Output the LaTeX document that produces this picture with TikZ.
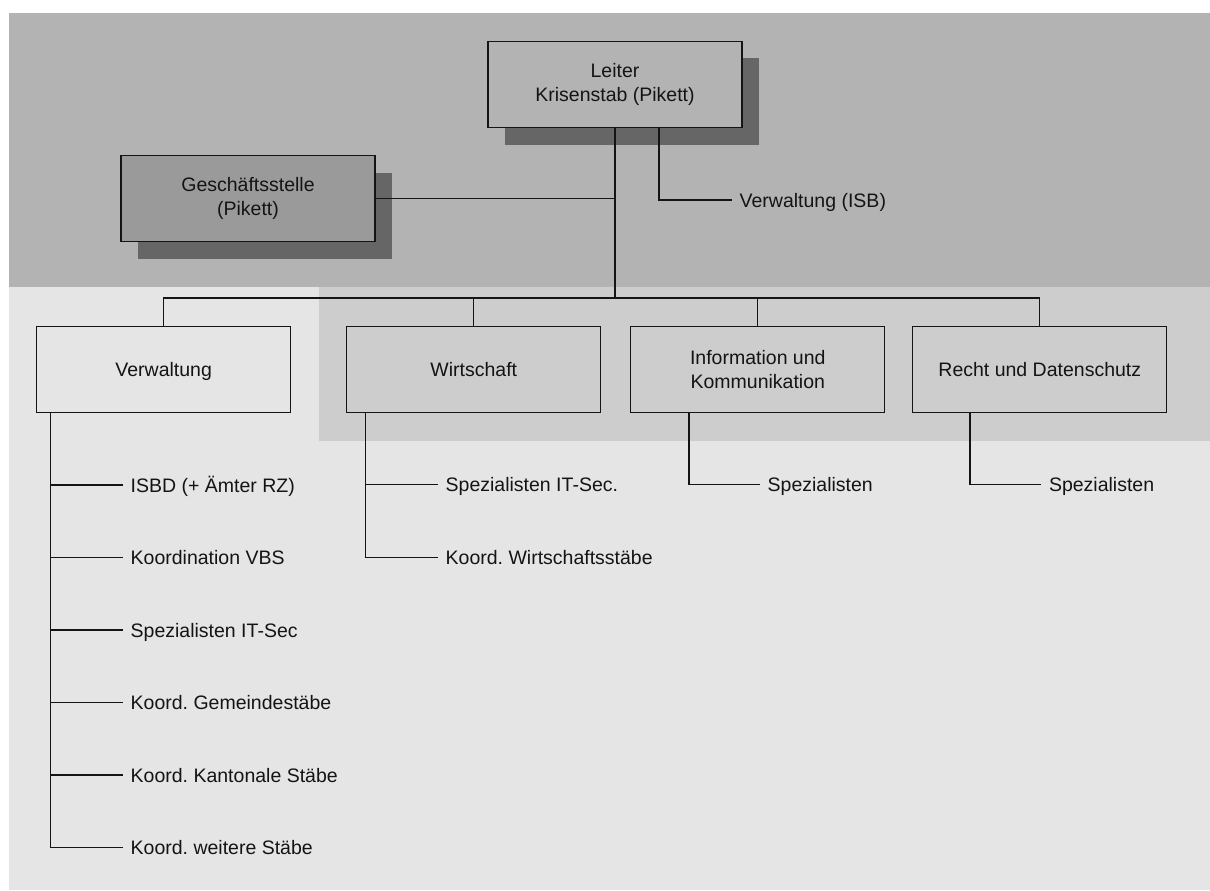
\documentclass[tikz,border=0pt]{standalone}
\usepackage{fontspec}
\setmainfont{Liberation Sans}
\usetikzlibrary{shadows}
\frenchspacing

\definecolor{bandtop}{HTML}{B3B3B3}
\definecolor{bandlow}{HTML}{E5E5E5}
\definecolor{bandmid}{HTML}{CDCDCD}
\definecolor{boxdark}{HTML}{9A9A9A}
\definecolor{shade}{HTML}{666666}
\definecolor{ink}{HTML}{141414}

\tikzset{
  unit/.style={draw=ink, line width=1.3pt, minimum width=254pt, minimum height=86pt,
    inner sep=0pt, outer sep=0pt, text=ink, align=center},
  oneline/.style={unit, text height=14pt, text depth=0pt},
  shadowed/.style={drop shadow={shadow xshift=17pt, shadow yshift=-17pt, fill=shade, opacity=1}},
  item/.style={anchor=west, inner xsep=8pt, inner ysep=0pt, outer sep=0pt,
    text height=14pt, text depth=0pt, text=ink},
  link/.style={draw=ink, line width=1.1pt},
  boldlink/.style={draw=ink, line width=1.5pt},
}

\begin{document}
\begin{tikzpicture}[x=1pt, y=-1pt, font=\fontsize{19.5}{24.3}\selectfont]
\useasboundingbox (0,0) rectangle (1210,891);

% background bands
\fill[bandlow] (9,287) rectangle (1210,890);
\fill[bandtop] (9,13) rectangle (1210,287);
\fill[bandmid] (319,287) rectangle (1210,440.7);

% top level
\node[unit, shadowed, fill=bandtop] (leiter) at (615,84.5) {Leiter\\Krisenstab (Pikett)};
\node[unit, shadowed, fill=boxdark] (gs) at (248,198.5) {Geschäftsstelle\\(Pikett)};

% departments
\node[oneline, fill=bandlow] (verw) at (163.7,369.5) {Verwaltung};
\node[oneline, fill=bandmid] (wirt) at (473.8,369.5) {Wirtschaft};
\node[unit, fill=bandmid] (info) at (757.8,369.5) {Information und\\Kommunikation};
\node[oneline, fill=bandmid] (recht) at (1039.8,369.5) {Recht und Datenschutz};

% sub-units
\node[item] (isb) at (731.7,200) {Verwaltung (ISB)};

\node[item] (v1) at (122.7,485)   {ISBD (+ Ämter RZ)};
\node[item] (v2) at (122.7,557.5) {Koordination VBS};
\node[item] (v3) at (122.7,630)   {Spezialisten IT-Sec};
\node[item] (v4) at (122.7,702.5) {Koord. Gemeindestäbe};
\node[item] (v5) at (122.7,775)   {Koord. Kantonale Stäbe};
\node[item] (v6) at (122.7,847.5) {Koord. weitere Stäbe};

\node[item] (w1) at (437.7,484.3) {Spezialisten IT-Sec.};
\node[item] (w2) at (437.7,557.3) {Koord. Wirtschaftsstäbe};

\node[item] (i1) at (759.7,484.3) {Spezialisten};
\node[item] (r1) at (1041,484.3)  {Spezialisten};

% connectors of the top level
\coordinate (bus) at (615,298);
\draw[boldlink] (leiter.south) -- (bus);
\draw[link] (gs.east) -- (gs.east -| leiter.south);
\draw[link] ([xshift=44pt]leiter.south) |- (isb.west);

% bus to the departments
\draw[link] (verw.north) |- (bus) -| (recht.north);
\draw[link] (wirt.north) -- (wirt.north |- bus);
\draw[link] (info.north) -- (info.north |- bus);

% Verwaltung trunk
\coordinate (vtrunk) at ([xshift=14pt]verw.south west);
\draw[link] (vtrunk) |- (v6.west);
\foreach \n in {v1,v2,v3,v4,v5}
  \draw[link] (\n.west) -- (\n.west -| vtrunk);

% Wirtschaft trunk
\coordinate (wtrunk) at ([xshift=19pt]wirt.south west);
\draw[link] (wtrunk) |- (w2.west);
\draw[boldlink] (w1.west) -- (w1.west -| wtrunk);

% Information und Kommunikation, Recht und Datenschutz
\draw[boldlink] ([xshift=58.3pt]info.south west) |- (i1.west);
\draw[boldlink] ([xshift=57pt]recht.south west) |- (r1.west);
\end{tikzpicture}
\end{document}
